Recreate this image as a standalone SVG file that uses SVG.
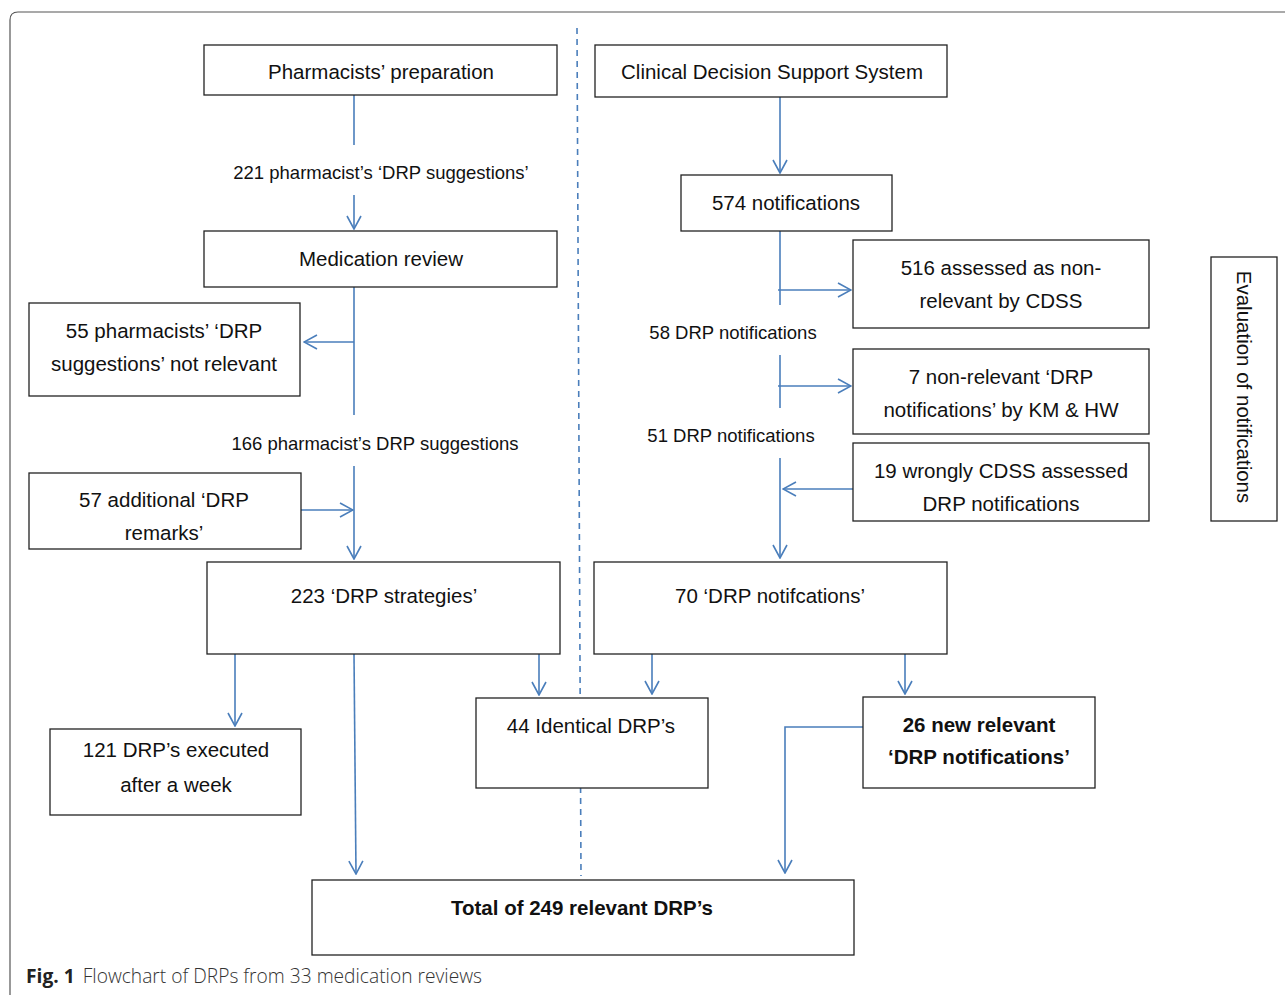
<svg xmlns="http://www.w3.org/2000/svg" width="1285" height="995" viewBox="0 0 1285 995">
<style>
.box{fill:#fff;stroke:#222;stroke-width:1.3}
.t{font-family:"Liberation Sans",Arial,sans-serif;font-size:20.5px;fill:#111;text-anchor:middle}
.l{font-size:18.5px}
.b{font-weight:bold}
.c{fill:none;stroke:#4a7ebb;stroke-width:1.6}
.cap{font-family:"Open Sans","Noto Sans",sans-serif;font-size:19.2px;fill:#333}
</style>
<defs>
<marker id="ah" viewBox="0 0 15 16" refX="14" refY="8" markerWidth="15" markerHeight="16" markerUnits="userSpaceOnUse" orient="auto">
<path d="M1,1 L14,8 L1,15" fill="none" stroke="#4a7ebb" stroke-width="1.6"/>
</marker>
</defs>
<rect width="1285" height="995" fill="#fff"/>
<path d="M10,1000 L10,20 Q10,12 18,12 L1295,12" fill="none" stroke="#555" stroke-width="1.2"/>
<line x1="577" y1="28" x2="581" y2="876" stroke="#4a7ebb" stroke-width="1.6" stroke-dasharray="6 5"/>
<g id="connectors">
<line class="c" x1="354" y1="95" x2="354" y2="145"/>
<line class="c" x1="354" y1="195" x2="354" y2="229" marker-end="url(#ah)"/>
<line class="c" x1="354" y1="287" x2="354" y2="415"/>
<line class="c" x1="354" y1="342" x2="304" y2="342" marker-end="url(#ah)"/>
<line class="c" x1="354" y1="466" x2="354" y2="559" marker-end="url(#ah)"/>
<line class="c" x1="301" y1="510" x2="353" y2="510" marker-end="url(#ah)"/>
<line class="c" x1="235" y1="654" x2="235" y2="726" marker-end="url(#ah)"/>
<line class="c" x1="354" y1="654" x2="356" y2="874" marker-end="url(#ah)"/>
<line class="c" x1="539" y1="654" x2="539" y2="695" marker-end="url(#ah)"/>
<line class="c" x1="780" y1="97" x2="780" y2="173" marker-end="url(#ah)"/>
<line class="c" x1="780" y1="231" x2="780" y2="305"/>
<line class="c" x1="778" y1="290" x2="851" y2="290" marker-end="url(#ah)"/>
<line class="c" x1="780" y1="355" x2="780" y2="408"/>
<line class="c" x1="778" y1="386" x2="851" y2="386" marker-end="url(#ah)"/>
<line class="c" x1="780" y1="458" x2="780" y2="558" marker-end="url(#ah)"/>
<line class="c" x1="853" y1="489" x2="783" y2="489" marker-end="url(#ah)"/>
<line class="c" x1="652" y1="654" x2="652" y2="694" marker-end="url(#ah)"/>
<line class="c" x1="905" y1="654" x2="905" y2="694" marker-end="url(#ah)"/>
<polyline class="c" points="863,727 785,727 785,873" marker-end="url(#ah)"/>
</g>
<g id="labels">
<text class="t l" x="381" y="179">221 pharmacist’s ‘DRP suggestions’</text>
<text class="t l" x="375" y="450">166 pharmacist’s DRP suggestions</text>
<text class="t l" x="733" y="339">58 DRP notifications</text>
<text class="t l" x="731" y="442">51 DRP notifications</text>
</g>
<g id="n-prep"><rect class="box" x="204" y="45" width="353" height="50"/><text class="t" x="381" y="79">Pharmacists’ preparation</text></g>
<g id="n-cdss"><rect class="box" x="595" y="45" width="352" height="52"/><text class="t" x="772" y="79">Clinical Decision Support System</text></g>
<g id="n-review"><rect class="box" x="204" y="231" width="353" height="56"/><text class="t" x="381" y="266">Medication review</text></g>
<g id="n-574"><rect class="box" x="681" y="175" width="211" height="56"/><text class="t" x="786" y="210">574 notifications</text></g>
<g id="n-516"><rect class="box" x="853" y="240" width="296" height="88"/><text class="t" x="1001" y="275">516 assessed as non-</text><text class="t" x="1001" y="308">relevant by CDSS</text></g>
<g id="n-55"><rect class="box" x="29" y="303" width="271" height="93"/><text class="t" x="164" y="338">55 pharmacists’ ‘DRP</text><text class="t" x="164" y="371">suggestions’ not relevant</text></g>
<g id="n-7"><rect class="box" x="853" y="349" width="296" height="85"/><text class="t" x="1001" y="384">7 non-relevant ‘DRP</text><text class="t" x="1001" y="417">notifications’ by KM &amp; HW</text></g>
<g id="n-19"><rect class="box" x="853" y="443" width="296" height="78"/><text class="t" x="1001" y="478">19 wrongly CDSS assessed</text><text class="t" x="1001" y="511">DRP notifications</text></g>
<g id="n-57"><rect class="box" x="29" y="473" width="272" height="76"/><text class="t" x="164" y="507">57 additional ‘DRP</text><text class="t" x="164" y="540">remarks’</text></g>
<g id="n-223"><rect class="box" x="207" y="562" width="353" height="92"/><text class="t" x="384" y="603">223 ‘DRP strategies’</text></g>
<g id="n-70"><rect class="box" x="594" y="562" width="353" height="92"/><text class="t" x="770" y="603">70 ‘DRP notifcations’</text></g>
<g id="n-121"><rect class="box" x="50" y="729" width="251" height="86"/><text class="t" x="176" y="757">121 DRP’s executed</text><text class="t" x="176" y="792">after a week</text></g>
<g id="n-44"><rect class="box" x="476" y="698" width="232" height="90"/><text class="t" x="591" y="733">44 Identical DRP’s</text></g>
<g id="n-26"><rect class="box" x="863" y="697" width="232" height="91"/><text class="t b" x="979" y="732">26 new relevant</text><text class="t b" x="979" y="764">‘DRP notifications’</text></g>
<g id="n-total"><rect class="box" x="312" y="880" width="542" height="75"/><text class="t b" x="582" y="915">Total of 249 relevant DRP’s</text></g>
<g id="n-eval"><rect class="box" x="1211" y="257" width="66" height="264"/><text class="t" transform="translate(1237,387) rotate(90)" x="0" y="0">Evaluation of notifications</text></g>
<text class="cap" x="26" y="983"><tspan font-weight="bold" fill="#222">Fig. 1</tspan><tspan dx="8" font-weight="300">Flowchart of DRPs from 33 medication reviews</tspan></text>
</svg>
